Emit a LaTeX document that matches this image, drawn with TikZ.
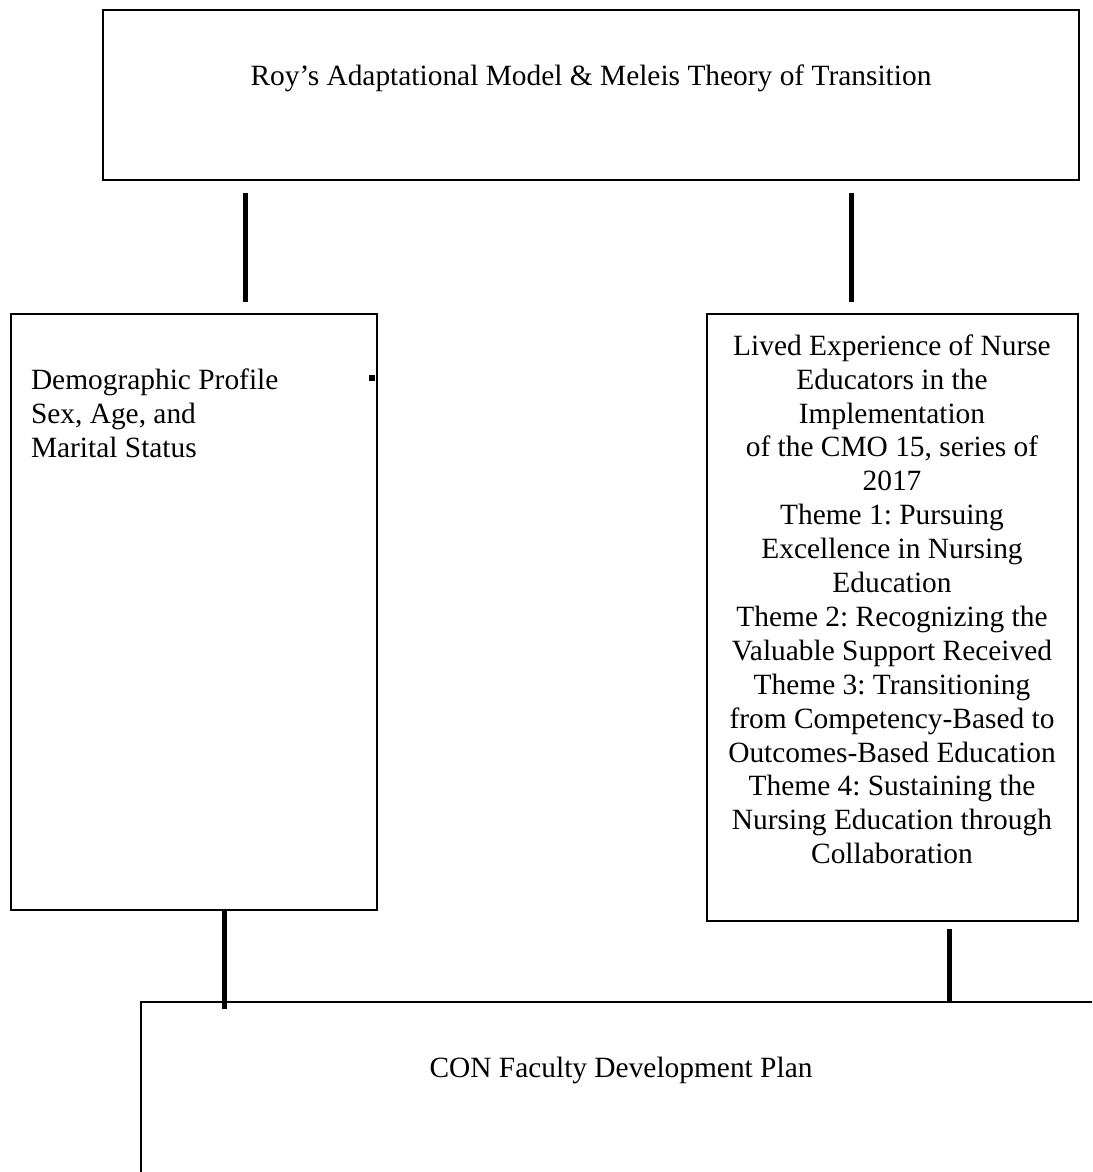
\documentclass[tikz,border=0pt]{standalone}
\usepackage{fontspec}
\setmainfont{Liberation Serif}
\frenchspacing
\begin{document}
\begin{tikzpicture}[x=1pt,y=-1pt,
  box/.style={draw, line width=1.8pt, inner sep=0pt, outer sep=0pt, anchor=north west},
  link/.style={line width=5pt},
  txt/.style={font=\fontsize{29.4}{33.9}\selectfont, inner sep=0pt, outer sep=0pt}]
\clip (0,0) rectangle (1092,1172);
\fill[white] (0,0) rectangle (1092,1172);
% boxes
\node[box, minimum width=976pt, minimum height=170pt] (top) at (103,10) {};
\node[box, minimum width=366pt, minimum height=596pt] (left) at (11,314) {};
\node[box, minimum width=371pt, minimum height=607pt] (right) at (707,314) {};
\node[box, minimum width=979pt, minimum height=220pt] (bottom) at (141,1002) {};
% texts
\node[txt, anchor=base] (ttop) at (591,85) {Roy’s Adaptational Model \& Meleis Theory of Transition};
\node[txt, anchor=north west, align=left] (tleft) at (31,368.5) {Demographic Profile\\Sex, Age, and\\Marital Status};
\node[txt, anchor=north, align=center] (tright) at (892,334.5) {Lived Experience of Nurse\\Educators in the\\Implementation\\of the CMO 15, series of\\2017\\Theme 1: Pursuing\\Excellence in Nursing\\Education\\Theme 2: Recognizing the\\Valuable Support Received\\Theme 3: Transitioning\\from Competency-Based to\\Outcomes-Based Education\\Theme 4: Sustaining the\\Nursing Education through\\Collaboration};
\node[txt, anchor=base] (tbottom) at (621,1077) {CON Faculty Development Plan};
% connectors
\draw[link] ([xshift=142pt,yshift=-13pt]top.south west) -- ([xshift=234pt,yshift=12pt]left.north west);
\draw[link] ([xshift=748pt,yshift=-13pt]top.south west) -- ([xshift=144pt,yshift=12pt]right.north west);
\draw[link] ([xshift=213pt]left.south west) -- ([xshift=83pt,yshift=-7pt]bottom.north west);
\draw[link] ([xshift=242pt,yshift=-8pt]right.south west) -- ([xshift=808pt]bottom.north west);
% small mark
\fill (369,375) rectangle (375,381);
\end{tikzpicture}
\end{document}
